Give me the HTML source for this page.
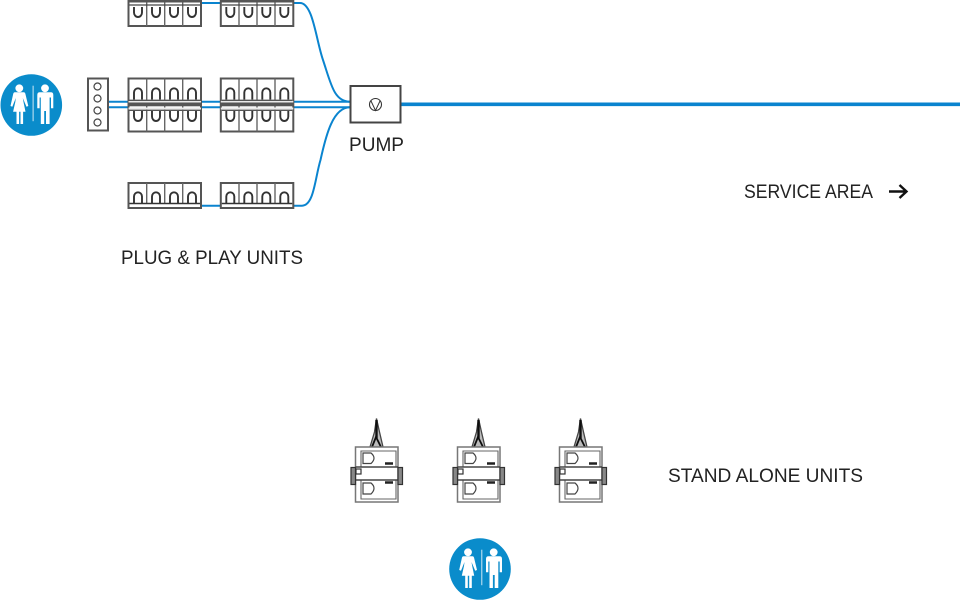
<!DOCTYPE html>
<html><head><meta charset="utf-8"><style>
html,body{margin:0;padding:0;background:#fff;width:960px;height:600px;overflow:hidden}
svg{display:block}
text{font-family:"Liberation Sans",sans-serif;font-size:19.5px;fill:#222}
</style></head><body>
<svg width="960" height="600" viewBox="0 0 960 600" xmlns="http://www.w3.org/2000/svg">
<defs>
<filter id="soft" x="-10%" y="-10%" width="120%" height="120%"><feGaussianBlur stdDeviation="0.35"/></filter>
<g id="icon">
<circle r="30.8" fill="#0a8ccb"/>
<g fill="#fff">
<circle cx="-12" cy="-16.700" r="3.900"/>
<path d="M-16.500-12.700H-7.500Q-6.500-12.700-6-11.500L-3 1-4.800 1.800-8.500-7-7.800-3-5.800 6.700H-8.200V19H-10.800V6.700H-12.200V19H-14.800V6.700H-18.200L-16-3-15.500-7-19 1.800-20.800 1-18-11.500Q-17.500-12.700-16.500-12.700Z"/>
<circle cx="13.700" cy="-16.700" r="3.900"/>
<path d="M8.500-12.700H19.500Q22-12.700 22-10V3.300H19.700V-7.500H18.300V19H14.700V6H12.900V19H9.500V-7.500H8.300V3.300H6V-10Q6-12.700 8.500-12.700Z"/>
<rect x="1.300" y="-19.300" width="1" height="35.500" fill="#cfe8f5"/>
</g>
</g>
<path id="tU" d="M-4 5.500V-1.500A4 4.200 0 0 1 4-1.500V5.500" fill="none" stroke="#333" stroke-width="1.900"/>
<path id="tD" d="M-4 -4.500V1A4 4.500 0 0 0 4 1V-4.500" fill="none" stroke="#333" stroke-width="1.900"/>
<g id="dbl">
<rect x="0" y="0" width="72.500" height="53" fill="#fff" stroke="#555" stroke-width="2"/>
<path d="M18.200 0V53M36.200 0V53M54.200 0V53" fill="none" stroke="#666" stroke-width="1.400"/>
<use href="#tU" x="9.500" y="15.500"/><use href="#tU" x="27.500" y="15.500"/><use href="#tU" x="45.500" y="15.500"/><use href="#tU" x="63.500" y="15.500"/>
<use href="#tD" x="9.500" y="37"/><use href="#tD" x="27.500" y="37"/><use href="#tD" x="45.500" y="37"/><use href="#tD" x="63.500" y="37"/>
<path d="M1 21.800H71.500M1 31.800H71.500" stroke="#555" stroke-width="1.400"/>
<rect x="0" y="22.500" width="72.500" height="1.600" fill="#e9e9e9"/>
<rect x="0" y="29" width="72.500" height="2" fill="#e9e9e9"/>
</g>
<g id="single-b">
<rect x="0" y="0" width="72.500" height="25" fill="#fff" stroke="#555" stroke-width="2"/>
<path d="M18.200 0V20M36.200 0V20M54.200 0V20" fill="none" stroke="#666" stroke-width="1.400"/>
<use href="#tU" x="9.500" y="15"/><use href="#tU" x="27.500" y="15"/><use href="#tU" x="45.500" y="15"/><use href="#tU" x="63.500" y="15"/>
<path d="M1 20.500H71.500" stroke="#333" stroke-width="1.500"/>
</g>
<g id="single-t">
<rect x="0" y="-10" width="72.500" height="36" fill="#fff" stroke="#555" stroke-width="2"/>
<path d="M18.200 0V26M36.200 0V26M54.200 0V26" fill="none" stroke="#666" stroke-width="1.400"/>
<rect x="0" y="-10" width="72.500" height="12.500" fill="#555"/>
<use href="#tD" x="9.500" y="11.500"/><use href="#tD" x="27.500" y="11.500"/><use href="#tD" x="45.500" y="11.500"/><use href="#tD" x="63.500" y="11.500"/>
<path d="M1 5H71.500" stroke="#444" stroke-width="1.200"/>
</g>
<g id="stand" fill="none" stroke="#444">
<path d="M25.500 -1.500L23.500 12 19 27H32L28.500 12Z" stroke-width="1.300" fill="#bbb"/>
<path d="M25.500 0V18" stroke="#111" stroke-width="2.400"/>
<path d="M21 27L25 17 30 27" stroke="#111" stroke-width="1.800"/>
<rect x="4.500" y="27" width="42.500" height="55" stroke="#777" fill="#fff" stroke-width="1.500"/>
<path d="M10 47V31H45V47M10 60V79H45V60" stroke="#666" stroke-width="1.100"/>
<path d="M4.500 47H47M4.500 60H47" stroke="#444" stroke-width="1.600"/>
<path d="M12 33H20Q26 38 20 43.500H12Z" stroke="#444" stroke-width="1.200"/>
<path d="M12 63H20Q26 68 20 74H12Z" stroke="#444" stroke-width="1.200"/>
<path d="M34 43.500H42M34 62.500H42" stroke="#222" stroke-width="2.400"/>
<rect x="0" y="47.500" width="4.500" height="17" stroke="#333" stroke-width="1.200" fill="#888"/>
<rect x="47" y="47.500" width="4.500" height="17" stroke="#333" stroke-width="1.200" fill="#888"/>
<rect x="5" y="49" width="5" height="5" stroke="#333" stroke-width="1.200"/>
</g>
</defs>

<!-- blue pipes -->
<g fill="none" stroke="#0a84cf" stroke-width="2">
<path d="M108 101.700H350M108 107.300H350"/>
<path d="M201 3H220M293 3H300C313 3 316 40 323 60C331 84 334 101.700 350 101.700"/>
<path d="M201 205.700H220M293 205.700H302C314 205.700 315 178 320.500 160C326 135 333 107.300 350 107.300"/>
</g>
<path d="M401 104.300H960" stroke="#0a84cf" stroke-width="3.600"/>

<!-- terminal -->
<rect x="88" y="78.500" width="20" height="52" fill="#fff" stroke="#555" stroke-width="2"/>
<g fill="none" stroke="#444" stroke-width="1.200">
<circle cx="97.500" cy="86.500" r="3.500"/><circle cx="97.500" cy="98.500" r="3.500"/>
<circle cx="97.500" cy="110.500" r="3.500"/><circle cx="97.500" cy="122.500" r="3.500"/>
</g>

<!-- units -->
<use href="#single-t" x="128.500" y="0"/><use href="#single-t" x="220.800" y="0"/>
<use href="#dbl" x="128.500" y="78.500"/><use href="#dbl" x="220.800" y="78.500"/>
<use href="#single-b" x="128.500" y="183"/><use href="#single-b" x="220.800" y="183"/>
<g fill="#555">
<rect x="128" y="102.500" width="73.500" height="3.800"/><rect x="220.500" y="102.500" width="73.500" height="3.800"/>
</g>

<!-- pump -->
<rect x="350.500" y="86" width="50" height="36.500" fill="#fff" stroke="#444" stroke-width="2"/>
<circle cx="375.500" cy="104.500" r="6" fill="none" stroke="#333" stroke-width="1.100"/>
<path d="M371 101L375.500 110.500 380 101" fill="none" stroke="#333" stroke-width="1"/>

<use href="#icon" x="31.300" y="105"/>
<use href="#icon" x="480" y="569"/>

<g filter="url(#soft)">
<use href="#stand" x="351" y="420"/>
<use href="#stand" x="453" y="420"/>
<use href="#stand" x="555" y="420"/>
</g>

<text x="349" y="151" textLength="55" lengthAdjust="spacingAndGlyphs">PUMP</text>
<text x="121" y="264" textLength="182" lengthAdjust="spacingAndGlyphs">PLUG &amp; PLAY UNITS</text>
<text x="744" y="198" textLength="129" lengthAdjust="spacingAndGlyphs">SERVICE AREA</text>
<text x="668" y="482" textLength="195" lengthAdjust="spacingAndGlyphs">STAND ALONE UNITS</text>
<path d="M889 191.500H906M899.500 185L906.500 191.500 899.500 198" fill="none" stroke="#111" stroke-width="2.400"/>
</svg>
</body></html>
